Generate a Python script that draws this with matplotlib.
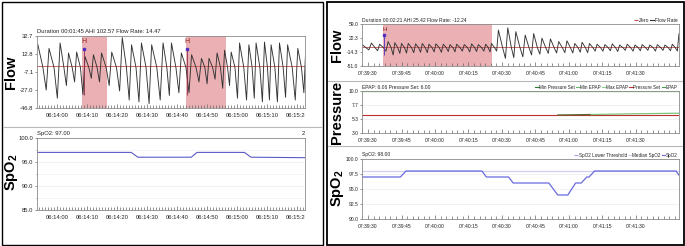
import matplotlib
matplotlib.use('Agg')
import matplotlib.pyplot as plt
from matplotlib.patches import Rectangle, ConnectionPatch
from matplotlib.lines import Line2D
from matplotlib.ticker import FixedLocator, MultipleLocator
from matplotlib.transforms import Bbox, TransformedBbox

plt.rcParams['font.family'] = ['Liberation Sans', 'DejaVu Sans']
plt.rcParams['mathtext.fontset'] = 'custom'
plt.rcParams['mathtext.bf'] = 'Liberation Sans:bold'

# ---- data: left recording (seconds relative to 06:14:00) ----
left_base = '06:14:00'
left_ticks = ['06:14:00', '06:14:10', '06:14:20', '06:14:30', '06:14:40',
              '06:14:50', '06:15:00', '06:15:10', '06:15:20']
flow_l_peak_t = [-6.3, -2.6, 1.1, 3.9, 6.6, 9.4, 12.2, 14.9, 18.3, 21.8, 24.9, 28.2,
                 31.6, 35.4, 38.2, 41.5, 44.9, 48.2, 50.7, 53.4, 55.9, 58.1, 60.9,
                 64.0, 66.4, 69.2, 71.4, 74.2, 76.9, 80.3, 83.0]
flow_l_peak_v = [23, 19, 25, 14, 15, 10, 12, 14, 15, 31, 23, 25, 23, 25, 25, 14,
                 12, 8, 8, 14, 17, 15, 25, 23, 25, 26, 23, 25, 23, 19, 23]
flow_l_trough_v = [-27, -36, -22, -18, -32, -14, -18, -22, -28, -38, -40, -42, -38,
                   -33, -30, -30, -18, -20, -15, -25, -22, -36, -38, -36, -40, -38,
                   -40, -35, -38, -30, -35]
hyp_l = [(8.3, 16.7), (43.0, 56.3)]
event_l_t = [9.0, 43.3]
cursor_l_t = 21.3
spo2_l_t = [-6.6, 24.8, 27.0, 44.8, 46.7, 62.5, 64.7, 82.7]
spo2_l_v = [97, 97, 96, 96, 97, 97, 96, 95.9]

# ---- data: right recording (seconds relative to 07:39:30) ----
right_base = '07:39:30'
right_ticks = ['07:39:30', '07:39:45', '07:40:00', '07:40:15', '07:40:30',
               '07:40:45', '07:41:00', '07:41:15', '07:41:30']
flow_r_peak_t = [-3.0, 1.5, 5.2, 9.0, 12.0, 15.0, 18.0, 21.3, 24.3, 27.3, 30.4, 33.7,
                 36.7, 39.7, 43.1, 46.4, 49.4, 52.7, 55.3, 58.4, 62.6, 66.2, 70.4,
                 74.2, 77.9, 81.7, 85.4, 89.1, 92.6, 95.9, 99.2, 102.6, 106.1, 109.4,
                 112.7, 116.1, 119.6, 122.8, 126.2, 129.6, 133.0, 136.3, 139.3]
flow_r_peak_v = [7, 9, 6, 13, 10, 8, 8, 7, 8, 6, 7, 6, 5, 6, 5, 7, 5, 6, 8,
                 43, 49, 39, 30, 34, 22, 20, 13, 15, 8, 11, 8, 6, 5, 7, 4, 6, 4,
                 5, 4, 5, 4, 6, 34]
flow_r_trough_v = [-9, -11, -12, -22, -18, -17, -16, -15, -16, -14, -15, -13, -14,
                   -12, -14, -13, -12, -14, -12, -31, -29, -27, -22, -20, -18, -17,
                   -16, -17, -15, -16, -12, -12, -11, -13, -10, -12, -11, -10, -12,
                   -10, -11, -12, -12]
hyp_r = [(6.5, 55.4)]
event_r_t = [7.3]
press_t = [-2.7, 139.3]
pressure_set = [6.0, 6.0]
max_epap = [10.0, 10.0]
epap_t = [85, 100, 115, 139.3]
epap_v = [6.0, 6.08, 6.18, 6.3]
spo2_r_t = [-2.7, 14.5, 17, 51, 53, 63, 65, 81, 85, 89.5, 93, 95.5, 98, 99,
            101.5, 138, 139.3]
spo2_r_v = [97, 97, 98, 98, 97, 97, 96, 96, 94, 94, 96, 96, 97, 97, 98, 98, 97.3]
median_spo2 = 98


def hms(s):
    h, m, sec = [int(p) for p in s.split(':')]
    return h * 3600 + m * 60 + sec


def wave(base, peak_t, peak_v, trough_v, knee):
    # one breath = peak -> knee near zero -> trough -> next peak
    ts, vs = [], []
    for i in range(len(peak_t)):
        d = peak_t[i + 1] - peak_t[i] if i + 1 < len(peak_t) else peak_t[i] - peak_t[i - 1]
        ts += [base + peak_t[i], base + peak_t[i] + 0.45 * d, base + peak_t[i] + 0.75 * d]
        vs += [peak_v[i], knee, trough_v[i]]
    return ts, vs


W, H = 685, 246
fig = plt.figure(figsize=(W / 100, H / 100), dpi=100)


def px_axes(x0, y0, x1, y1):
    return fig.add_axes([x0 / W, 1 - y1 / H, (x1 - x0) / W, (y1 - y0) / H])


def style(ax, xlim, ylim, yticks, xlabels, minor, fs):
    ax.set_xlim(xlim)
    ax.set_ylim(ylim)
    ax.set_yticks(yticks)
    ax.set_yticklabels(['%.1f' % v for v in yticks])
    ax.xaxis.set_major_locator(FixedLocator([hms(l) for l in xlabels]))
    ax.set_xticklabels(xlabels)
    ax.xaxis.set_minor_locator(MultipleLocator(minor))
    ax.tick_params(axis='x', which='major', direction='in', length=3, width=0.5,
                   labelsize=fs, pad=3.5, colors='#666666', labelcolor='#222222')
    ax.tick_params(axis='x', which='minor', direction='in', length=2.5, width=0.5,
                   colors='#666666')
    ax.tick_params(axis='y', direction='out', length=1.5, width=0.5, labelsize=fs,
                   pad=1, colors='#666666', labelcolor='#222222')
    for sp in ax.spines.values():
        sp.set_color('#8c8c8c')
        sp.set_linewidth(0.6)


def title(ax, s, fs):
    ax.text(0.0, 1.03, s, transform=ax.transAxes, fontsize=fs, color='#222222',
            ha='left', va='bottom')


def legend(ax, items, fs):
    handles = [Line2D([], [], color=c, ls=ls, lw=0.8) for _, c, ls in items]
    ax.legend(handles, [n for n, _, _ in items], loc='lower right',
              bbox_to_anchor=(1.0, 1.0), ncol=len(items), fontsize=fs, frameon=False,
              handlelength=0.8, handletextpad=0.1, columnspacing=0.25,
              borderaxespad=0.2, borderpad=0.1, labelcolor='#222222')


ylab = dict(fontsize=10.5, rotation=90, ha='center', va='center', color='black')
hyp_color = '#eab0b3'
flow_color = '#333333'
zero_color = '#c85050'
fs_l = 4.2
fs_r = 3.6

# ---------------- left panel ----------------
lb = hms(left_base)
lxlim = (lb - 6.6, lb + 82.7)

ax1 = px_axes(37, 36, 305, 108)
for a, b in hyp_l:
    ax1.axvspan(lb + a, lb + b, color=hyp_color, lw=0)
ax1.axhline(0, color=zero_color, lw=0.6)
t, v = wave(lb, flow_l_peak_t, flow_l_peak_v, flow_l_trough_v, -2)
ax1.plot(t, v, color=flow_color, lw=0.65)
for e in event_l_t:
    ax1.vlines(lb + e, -32, 18, color='#8a3050', lw=0.6)
    ax1.plot(lb + e, 18, 's', color='#5030c0', ms=1.8)
    ax1.text(lb + e, 23, 'H', color='#8b1a1a', fontsize=5, ha='center', va='bottom')
style(ax1, lxlim, (-46.8, 32.7), [-46.8, -27.0, -7.1, 12.8, 32.7], left_ticks, 1, fs_l)
title(ax1, 'Duration 00:01:45 AHI 102.57 Flow Rate: 14.47', fs_l)

ax2 = px_axes(37, 138, 305, 210)
ax2.yaxis.grid(True, color='#ececec', lw=0.5)
ax2.set_axisbelow(True)
ax2.plot([lb + s for s in spo2_l_t], spo2_l_v, color='#5a5ac8', lw=0.8)
style(ax2, lxlim, (85, 100), [85.0, 90.0, 95.0, 100.0], left_ticks, 1, fs_l)
ax2.set_yticks([87.5, 92.5, 97.5], minor=True)
ax2.tick_params(axis='y', which='minor', length=1, width=0.5, colors='#666666')
ax2.yaxis.grid(True, which='minor', color='#f2f2f2', lw=0.5)
title(ax2, 'SpO2: 97.00', fs_l)
ax2.text(1.0, 1.03, '2', transform=ax2.transAxes, fontsize=fs_l, ha='right',
         va='bottom', color='#222222')

# cut the last time label at the plot edge like the original
clip = TransformedBbox(Bbox([[0, 0], [305 / W, 1]]), fig.transFigure)
for a in (ax1, ax2):
    for lab in a.get_xticklabels():
        lab.set_clip_box(clip)
        lab.set_clip_on(True)

# green cursor across both plots
cur = ConnectionPatch((lb + cursor_l_t, 32.7), (lb + cursor_l_t, 82.0), 'data', 'data',
                      axesA=ax1, axesB=ax2, color='#7ddc7d', lw=1.0)
fig.add_artist(cur)

fig.text(11 / W, 1 - 72 / H, 'Flow', fontweight='bold', **ylab)
fig.text(11 / W, 1 - 172 / H, r'$\mathbf{SpO_2}$', **ylab)

# ---------------- right panel ----------------
rb = hms(right_base)
rxlim = (rb - 2.7, rb + 139.3)

ax3 = px_axes(362, 24, 679, 66)
for a, b in hyp_r:
    ax3.axvspan(rb + a, rb + b, color=hyp_color, lw=0)
ax3.axhline(0, color=zero_color, lw=0.6)
t, v = wave(rb, flow_r_peak_t, flow_r_peak_v, flow_r_trough_v, -3)
ax3.plot(t, v, color=flow_color, lw=0.65)
for e in event_r_t:
    ax3.vlines(rb + e, -22, 30, color='#6040c0', lw=0.7)
    ax3.plot(rb + e, 30, 's', color='#5030c0', ms=1.8)
    ax3.text(rb + e, 37, 'H', color='#8b1a1a', fontsize=4.5, ha='center', va='bottom')
style(ax3, rxlim, (-51.0, 59.0), [-51.0, -14.3, 22.3, 59.0], right_ticks, 2.5, fs_r)
title(ax3, 'Duration 00:02:21 AHI 25.42 Flow Rate: -12.24', fs_r)
legend(ax3, [('Zero', zero_color, '--'), ('Flow Rate', flow_color, '-')], fs_r)

ax4 = px_axes(362, 91, 679, 133)
ax4.yaxis.grid(True, color='#ececec', lw=0.5)
ax4.set_axisbelow(True)
ax4.plot([rb + s for s in press_t], max_epap, color='#8fd08f', lw=1.0)
ax4.plot([rb + s for s in press_t], pressure_set, color='#c03030', lw=0.8)
ax4.plot([rb + s for s in epap_t[:2]], epap_v[:2], color='#556b2f', lw=0.9)
ax4.plot([rb + s for s in epap_t[1:]], epap_v[1:], color='#7cc67c', lw=0.9)
style(ax4, rxlim, (3.0, 10.0), [3.0, 5.3, 7.7, 10.0], right_ticks, 2.5, fs_r)
title(ax4, 'EPAP: 6.06 Pressure Set: 6.00', fs_r)
legend(ax4, [('Min Pressure Set', '#2e7d32', '-'), ('Min EPAP', '#66bb6a', '-'),
             ('Max EPAP', '#8fd08f', '-'), ('Pressure Set', '#c03030', '-'),
             ('EPAP', '#43a047', '-')], 3.3)

ax5 = px_axes(362, 159, 679, 219)
ax5.yaxis.grid(True, color='#ececec', lw=0.5)
ax5.set_axisbelow(True)
ax5.plot(rxlim, [median_spo2, median_spo2], color='#cfcff4', lw=0.9)
ax5.plot([rb + s for s in spo2_r_t], spo2_r_v, color='#6a6ae0', lw=0.9)
style(ax5, rxlim, (90, 100), [90.0, 92.5, 95.0, 97.5, 100.0], right_ticks, 2.5, fs_r)
title(ax5, 'SpO2: 98.00', fs_r)
legend(ax5, [('SpO2 Lower Threshold', '#a0a0e8', '--'), ('Median SpO2', '#cfcff4', '--'),
             ('SpO2', '#6a6ae0', '-')], 3.3)

fig.text(337 / W, 1 - 45 / H, 'Flow', fontweight='bold', **ylab)
fig.text(337 / W, 1 - 112 / H, 'Pressure', fontweight='bold', **ylab)
fig.text(337 / W, 1 - 188 / H, r'$\mathbf{SpO_2}$', **ylab)

# ---------------- panel frames ----------------
def frame(x0, y0, x1, y1, lw):
    fig.add_artist(Rectangle((x0 / W, 1 - y1 / H), (x1 - x0) / W, (y1 - y0) / H,
                             transform=fig.transFigure, fill=False, ec='black', lw=lw))


def sep(x0, x1, y):
    fig.add_artist(Line2D([x0 / W, x1 / W], [1 - y / H, 1 - y / H],
                          transform=fig.transFigure, color='#b8b8b8', lw=0.8))


frame(1.5, 1.5, 323, 244.5, 1.0)
frame(327, 1.5, 683.5, 244.5, 1.3)
sep(3, 322, 127)
sep(328, 682, 81)
sep(328, 682, 146)

fig.savefig('out.png', dpi=100)
